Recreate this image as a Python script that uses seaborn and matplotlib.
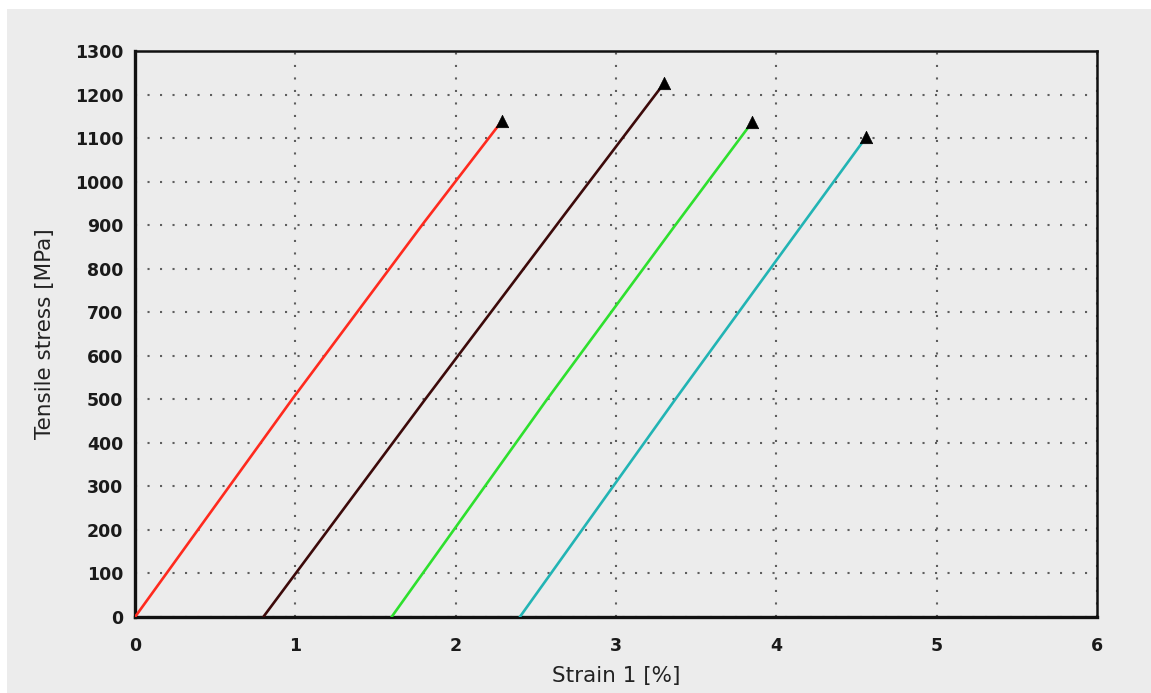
# %%
import matplotlib.pyplot as plt
import pandas as pd
import numpy as np
import seaborn as sns
from matplotlib.ticker import MultipleLocator
from matplotlib.patches import Rectangle

# stress-strain curves (strain in %, stress in MPa)
# the curves are practically straight, so a few read points each
strain_1 = [0.00, 0.98, 1.80, 2.29]
stress_1 = [0, 500, 905, 1140]

strain_2 = [0.80, 1.81, 2.68, 3.30]
stress_2 = [0, 500, 925, 1226]

strain_3 = [1.60, 2.57, 3.37, 3.85]
stress_3 = [0, 500, 900, 1137]

strain_4 = [2.40, 3.37, 4.15, 4.56]
stress_4 = [0, 500, 895, 1102]

specimens = ['1', '2', '3', '4']
colors = ['#ff2a1e', '#3d0a0a', '#2ee02e', '#22b4b4']

frames = []
for name, sx, sy in zip(specimens, [strain_1, strain_2, strain_3, strain_4],
                        [stress_1, stress_2, stress_3, stress_4]):
    frames.append(pd.DataFrame({'strain': sx, 'stress': sy, 'specimen': name}))
df = pd.concat(frames, ignore_index=True)
df_break = df.groupby('specimen', sort=False).tail(1)

# %%
sns.set_style('white')
plt.rcParams['font.family'] = ['DejaVu Sans']
bg = '#ececec'

fig = plt.figure(figsize=(11.51, 6.93), dpi=100, facecolor='white')
fig.patches.append(Rectangle((7 / 1151, 0), 1, 1 - 9 / 693, transform=fig.transFigure,
                             facecolor=bg, edgecolor='none', zorder=-10))
ax = fig.add_axes([135 / 1151, 1 - 617 / 693, (1097 - 135) / 1151, (617 - 51) / 693])
ax.set_facecolor(bg)

sns.lineplot(data=df, x='strain', y='stress', hue='specimen', palette=colors,
             sort=False, estimator=None, linewidth=1.9, legend=False, ax=ax, zorder=3)
sns.scatterplot(data=df_break, x='strain', y='stress', marker='^', color='black',
                s=80, edgecolor='black', linewidth=0.5, legend=False, ax=ax, zorder=4)

ax.set_xlim(0, 6)
ax.set_ylim(0, 1300)
ax.xaxis.set_major_locator(MultipleLocator(1))
ax.xaxis.set_minor_locator(MultipleLocator(0.5))
ax.yaxis.set_major_locator(MultipleLocator(100))
ax.yaxis.set_minor_locator(MultipleLocator(50))

ax.grid(True, which='major', linestyle=(0, (1, 5)), color='#5e5e5e', linewidth=1.5)
ax.set_axisbelow(True)

ax.tick_params(which='major', direction='inout', length=9, width=1.6, color='black',
               labelsize=12.5, pad=10, labelcolor='#1a1a1a')
ax.tick_params(which='minor', direction='inout', length=7, width=1.4, color='black')
for lab in ax.get_xticklabels() + ax.get_yticklabels():
    lab.set_fontweight('bold')
ax.tick_params(axis='y', pad=4)

for side in ['left', 'bottom']:
    ax.spines[side].set_linewidth(2.4)
for side in ['top', 'right']:
    ax.spines[side].set_linewidth(1.8)
for s in ax.spines.values():
    s.set_color('#111111')

ax.set_xlabel('Strain 1 [%]', fontsize=15.5, color='#222222', labelpad=8)
ax.set_ylabel('Tensile stress [MPa]', fontsize=15.5, color='#222222', labelpad=14)

plt.savefig('out.png', dpi=100, facecolor=fig.get_facecolor())
